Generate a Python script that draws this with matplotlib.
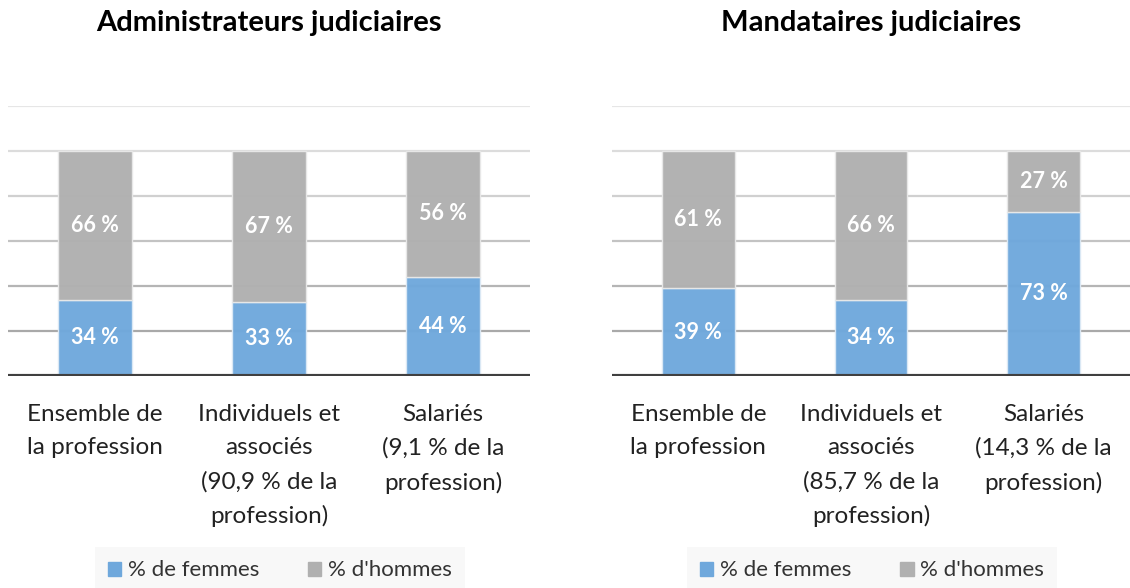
import matplotlib
matplotlib.use('Agg')
import matplotlib.pyplot as plt
from matplotlib.patches import Patch

plt.rcParams['font.family'] = ['Lato', 'DejaVu Sans']

titres = ['Administrateurs judiciaires', 'Mandataires judiciaires']
categories_admin = ['Ensemble de\nla profession', 'Individuels et\nassociés\n(90,9 % de la\nprofession)',
                    'Salariés\n(9,1 % de la\nprofession)']
categories_mand = ['Ensemble de\nla profession', 'Individuels et\nassociés\n(85,7 % de la\nprofession)',
                   'Salariés\n(14,3 % de la\nprofession)']
femmes_admin = [34, 33, 44]
hommes_admin = [66, 67, 56]
femmes_mand = [39, 34, 73]
hommes_mand = [61, 66, 27]

bleu = '#6fa8dc'
gris = '#b0b0b0'
grilles = {20: '#a9a9a9', 40: '#b5b5b5', 60: '#c3c3c3', 80: '#d0d0d0', 100: '#dcdcdc', 120: '#e6e6e6'}

fig = plt.figure(figsize=(11.3, 5.88), dpi=100)
ax1 = fig.add_axes([8/1130, 1-376/588, 522/1130, 270/588])
ax2 = fig.add_axes([612/1130, 1-376/588, 518/1130, 270/588])

donnees = [(ax1, titres[0], categories_admin, femmes_admin, hommes_admin, 0.521),
           (ax2, titres[1], categories_mand, femmes_mand, hommes_mand, 0.502)]

for ax, titre, cats, fem, hom, leg_x in donnees:
    x = list(range(len(cats)))
    for val, c in grilles.items():
        ax.axhline(val, color=c, lw=1.6, zorder=0)
    ax.bar(x, fem, width=0.42, color=bleu, edgecolor='#dce9f5', linewidth=1, alpha=0.97, zorder=2)
    ax.bar(x, hom, width=0.42, bottom=fem, color=gris, edgecolor='#e8e8e8', linewidth=1, alpha=0.97, zorder=2)
    for i in x:
        ax.text(i, fem[i]/2, f'{fem[i]} %', color='white', fontsize=15.5, fontweight='bold',
                ha='center', va='center', zorder=3)
        ax.text(i, fem[i] + hom[i]/2, f'{hom[i]} %', color='white', fontsize=15.5, fontweight='bold',
                ha='center', va='center', zorder=3)
    ax.axhline(0, color='#404040', lw=3, zorder=4)
    ax.set_ylim(0, 120)
    ax.set_xlim(-0.5, 2.5)
    ax.set_yticks([])
    ax.set_xticks(x)
    ax.set_xticklabels(cats, fontsize=17.5, color='#222222', linespacing=1.72)
    ax.tick_params(axis='x', length=0, pad=20)
    ax.set_frame_on(False)
    ax.set_title(titre, fontsize=21, fontweight='bold', pad=54)
    leg = ax.legend(handles=[Patch(color=bleu), Patch(color=gris)],
                    labels=['% de femmes', "% d'hommes"], loc='center', bbox_to_anchor=(leg_x, -0.72),
                    ncol=2, fontsize=16, frameon=True, facecolor='#f7f7f7', edgecolor='none',
                    fancybox=False, handlelength=0.6, handleheight=0.6, handletextpad=0.3,
                    columnspacing=2.2, borderpad=0.6, labelcolor='#333333')

fig.savefig('out.png', dpi=100)
